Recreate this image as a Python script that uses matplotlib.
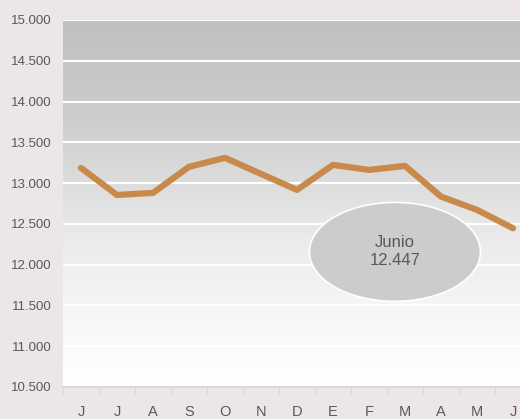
import matplotlib
matplotlib.use('Agg')
import matplotlib.pyplot as plt
import numpy as np
from matplotlib.patches import Ellipse

plt.rcParams['font.family'] = ['Liberation Sans', 'DejaVu Sans']

meses = ['J', 'J', 'A', 'S', 'O', 'N', 'D', 'E', 'F', 'M', 'A', 'M', 'J']
valores = [13186, 12855, 12880, 13200, 13310, 13113, 12917, 13223, 13162, 13211, 12835, 12672, 12447]
yticks = [10500, 11000, 11500, 12000, 12500, 13000, 13500, 14000, 14500, 15000]

bg = '#ECE6E6'
txt = '#595959'

fig = plt.figure(figsize=(5.2, 4.19), dpi=100, facecolor=bg)
W, H = 520, 419
ax = fig.add_axes([63 / W, 1 - 387 / H, 468 / W, 367 / H])
ax.set_facecolor(bg)

x = np.arange(len(meses))

# fondo degradado (gris arriba, blanco abajo)
f = np.linspace(0, 1, 256)
g = np.interp(f, [0, 0.27, 0.6, 0.82, 1], [192, 205, 235, 248, 255]) / 255
img = np.repeat(g.reshape(256, 1, 1), 3, axis=2)
ax.imshow(img, extent=[-0.5, len(meses) - 0.5, 10500, 15000], aspect='auto', zorder=0)
ax.set_xlim(-0.5, len(meses) - 0.5)
ax.set_ylim(10500, 15000)

for yv in yticks[1:]:
    ax.axhline(yv, color='white', lw=1.5, zorder=1)

ax.plot(x, valores, color='#C8894A', lw=4.5, solid_joinstyle='round', solid_capstyle='round', zorder=3)

ell = Ellipse((8.72, 12157), 4.75, 1213, facecolor='#CCCCCC', edgecolor='white', lw=1.2, zorder=4)
ax.add_patch(ell)
ax.text(8.72, 12157, 'Junio\n12.447', ha='center', va='center', fontsize=12,
        color=txt, linespacing=1.25, zorder=5)

ax.set_yticks(yticks)
ax.set_yticklabels([f'{v:,}'.replace(',', '.') for v in yticks])
ax.set_xticks(x)
ax.set_xticklabels(meses)
ax.set_xticks(np.arange(-0.5, len(meses)), minor=True)
ax.tick_params(axis='x', which='major', length=0, pad=13, labelsize=10.5, labelcolor=txt)
ax.tick_params(axis='x', which='minor', length=5, color='#D9D9D9', width=1)
ax.tick_params(axis='y', length=0, pad=8, labelsize=9.5, labelcolor=txt)

for s in ['top', 'right', 'left']:
    ax.spines[s].set_visible(False)
ax.spines['bottom'].set_color('#D9D9D9')
ax.spines['bottom'].set_linewidth(1.5)

fig.savefig('out.png', dpi=100, facecolor=bg)
